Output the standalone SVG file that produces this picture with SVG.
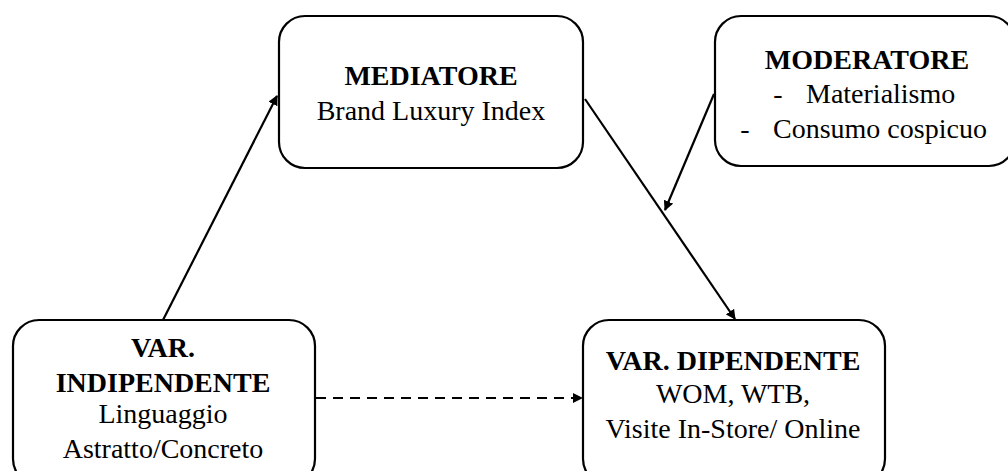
<svg xmlns="http://www.w3.org/2000/svg" width="1008" height="471" viewBox="0 0 1008 471">
<style>
.box{fill:#fff;stroke:#000;stroke-width:2.2}
.t{font-family:'Liberation Serif','Tinos','Times New Roman','DejaVu Serif',serif;font-size:28px;fill:#000;text-anchor:middle}
.b{font-weight:bold}
.c{stroke:#000;stroke-width:2.2;fill:none;marker-end:url(#ah)}
</style>
<defs>
<marker id="ah" markerWidth="10" markerHeight="10" refX="9" refY="5" orient="auto" markerUnits="userSpaceOnUse">
<path d="M0,0 L10,5 L0,10 Z" fill="#000"/>
</marker>
</defs>
<rect width="1008" height="471" fill="#fff"/>
<g id="connectors">
<line class="c" x1="163" y1="320" x2="277" y2="96"/>
<line class="c" x1="585" y1="99" x2="735" y2="319"/>
<line class="c" x1="714" y1="94" x2="665" y2="210"/>
<line class="c" x1="316" y1="398" x2="582" y2="398" stroke-dasharray="10,7"/>
</g>
<g id="mediatore">
<rect class="box" x="279" y="16" width="304" height="152" rx="26"/>
<text class="t b" x="431" y="85" font-family="Liberation Serif, serif">MEDIATORE</text>
<text class="t" x="431" y="120" font-family="Liberation Serif, serif">Brand Luxury Index</text>
</g>
<g id="moderatore">
<rect class="box" x="715" y="16" width="300" height="150" rx="26"/>
<text class="t b" x="867" y="69">MODERATORE</text>
<text class="t" x="778" y="103">-</text>
<text class="t" x="806" y="103" style="text-anchor:start">Materialismo</text>
<text class="t" x="745" y="138">-</text>
<text class="t" x="773" y="138" style="text-anchor:start">Consumo cospicuo</text>
</g>
<g id="indipendente">
<rect class="box" x="13" y="320" width="302" height="165" rx="26"/>
<text class="t b" x="163" y="357">VAR.</text>
<text class="t b" x="163" y="392">INDIPENDENTE</text>
<text class="t" x="163" y="423">Linguaggio</text>
<text class="t" x="163" y="458">Astratto/Concreto</text>
</g>
<g id="dipendente">
<rect class="box" x="583" y="320" width="302" height="165" rx="26"/>
<text class="t b" x="733" y="370">VAR. DIPENDENTE</text>
<text class="t" x="733" y="403">WOM, WTB,</text>
<text class="t" x="733" y="438">Visite In-Store/ Online</text>
</g>
</svg>
